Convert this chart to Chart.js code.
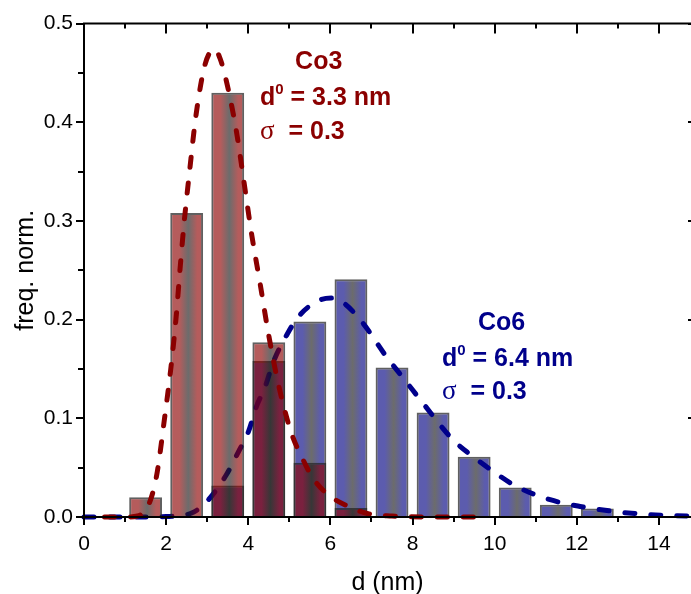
<!DOCTYPE html>
<html><head><meta charset="utf-8">
<script src="https://cdn.jsdelivr.net/npm/chart.js@4/dist/chart.umd.min.js"></script>
<style>html,body{margin:0;padding:0;background:#fff;}canvas{display:block;}</style>
</head><body>
<canvas id="c" width="691" height="594" style="width:691px;height:594px"></canvas>
<script>
// ---- data ----
const co3BarCenters = [1.5, 2.5, 3.5, 4.5, 5.5, 6.5];
const co3BarFreq    = [0.020, 0.308, 0.430, 0.177, 0.055, 0.009];
const co6BarCenters = [3.5, 4.5, 5.5, 6.5, 7.5, 8.5, 9.5, 10.5, 11.5, 12.5];
const co6BarFreq    = [0.032, 0.158, 0.198, 0.241, 0.1515, 0.106, 0.061, 0.030, 0.0124, 0.0087];

const co3FitD    = [0.5, 1.0, 1.3, 1.5, 1.66, 1.785, 1.955, 2.11, 2.24, 2.34, 2.435, 2.58, 2.73, 2.95, 3.19, 3.31, 3.46, 3.71, 3.89, 4.08, 4.29, 4.49, 4.73, 5.05, 5.30, 5.58, 5.95, 6.44, 6.92, 7.5, 8.5, 9.5];
const co3FitFreq = [0, 0, 0.001, 0.007, 0.0225, 0.046, 0.098, 0.149, 0.201, 0.252, 0.297, 0.354, 0.408, 0.459, 0.474, 0.465, 0.443, 0.391, 0.341, 0.287, 0.236, 0.186, 0.135, 0.085, 0.061, 0.039, 0.0225, 0.0107, 0.0033, 0.001, 0, 0];

const co6FitD    = [0, 1, 2, 2.62, 3.03, 3.47, 3.76, 4.0, 4.2, 4.41, 4.61, 4.93, 5.24, 5.75, 6.05, 6.35, 6.8, 7.37, 7.81, 8.26, 8.99, 9.48, 9.97, 10.53, 11.35, 12.08, 12.89, 13.78, 14.78];
const co6FitFreq = [0, 0, 0.0005, 0.004, 0.0175, 0.043, 0.066, 0.086, 0.112, 0.132, 0.157, 0.184, 0.204, 0.220, 0.222, 0.216, 0.196, 0.162, 0.139, 0.115, 0.078, 0.061, 0.046, 0.031, 0.0175, 0.0107, 0.0057, 0.0023, 0.001];

const xTickValues  = [0, 2, 4, 6, 8, 10, 12, 14];
const xMinorValues = [1, 3, 5, 7, 9, 11, 13];
const yTickValues  = [0, 0.1, 0.2, 0.3, 0.4, 0.5];
const yMinorValues = [0.05, 0.15, 0.25, 0.35, 0.45];

const co3Label = ['Co3', '3.3', '0.3'];
const co6Label = ['Co6', '6.4', '0.3'];

// ---- styling ----
const FONT = '"Liberation Sans", Arial, sans-serif';
Chart.defaults.font.family = FONT;
Chart.defaults.color = '#000';
const RED = '#8b0000', BLUE = '#00008b';
const BAR_ALPHA = 0.64;
const BAR_FRAC = 0.8;

const zip = (a, b) => a.map((v, i) => ({x: v, y: b[i]}));

function barGradient(rgb) {
  return (c) => {
    const chart = c.chart, xs = chart.scales && chart.scales.x;
    const flat = `rgba(${rgb},${BAR_ALPHA})`;
    if (c.type !== 'data' || !xs || !chart.chartArea || !c.raw) return flat;
    const x0 = xs.getPixelForValue(c.raw.x - BAR_FRAC / 2);
    const x1 = xs.getPixelForValue(c.raw.x + BAR_FRAC / 2);
    if (!isFinite(x0) || !isFinite(x1) || x1 <= x0) return flat;
    const g = chart.ctx.createLinearGradient(x0, 0, x1, 0);
    g.addColorStop(0, flat);
    g.addColorStop(0.28, flat);
    g.addColorStop(0.55, `rgba(25,25,25,${BAR_ALPHA})`);
    g.addColorStop(0.82, flat);
    g.addColorStop(1, flat);
    return g;
  };
}

const frame = {
  id: 'frame',
  afterDatasetsDraw(chart) {
    const {ctx, chartArea: a, scales: {x, y}} = chart;
    ctx.save();
    ctx.strokeStyle = '#000';
    ctx.lineWidth = 2;
    ctx.beginPath();
    ctx.moveTo(a.left, a.top - 1); ctx.lineTo(a.left, a.bottom + 1);
    ctx.moveTo(a.left - 1, a.bottom); ctx.lineTo(a.right, a.bottom);
    ctx.moveTo(a.left - 1, a.top); ctx.lineTo(a.right, a.top);
    ctx.stroke();
    ctx.beginPath();
    xTickValues.forEach(v => { const p = Math.round(x.getPixelForValue(v));
      ctx.moveTo(p, a.bottom); ctx.lineTo(p, a.bottom + 8);
      ctx.moveTo(p, a.top); ctx.lineTo(p, a.top + 10); });
    xMinorValues.forEach(v => { const p = Math.round(x.getPixelForValue(v));
      ctx.moveTo(p, a.bottom); ctx.lineTo(p, a.bottom + 5);
      ctx.moveTo(p, a.top); ctx.lineTo(p, a.top + 5); });
    yTickValues.forEach(v => { const p = Math.round(y.getPixelForValue(v));
      ctx.moveTo(a.left, p); ctx.lineTo(a.left - 8, p);
      ctx.moveTo(a.right, p); ctx.lineTo(a.right - 3, p); });
    yMinorValues.forEach(v => { const p = Math.round(y.getPixelForValue(v));
      ctx.moveTo(a.left, p); ctx.lineTo(a.left - 6, p); });
    ctx.stroke();
    ctx.restore();
  },
  afterDraw(chart) {
    const {ctx, scales: {x, y}} = chart;
    const bold = 'bold 25px ' + FONT, sup = 'bold 15px ' + FONT, sig = '27px "Liberation Serif", serif';
    function line(px, py, parts, color) {
      let cx = x.getPixelForValue(px); const by = y.getPixelForValue(py);
      ctx.fillStyle = color; ctx.textBaseline = 'alphabetic'; ctx.textAlign = 'left';
      parts.forEach(([t, f, dy]) => { ctx.font = f; ctx.fillText(t, cx, by + (dy || 0)); cx += ctx.measureText(t).width; });
    }
    ctx.save();
    line(5.14, 0.4535, [[co3Label[0], bold]], RED);
    line(4.285, 0.418, [['d', bold], ['0', sup, -11], [' = ' + co3Label[1] + ' nm', bold]], RED);
    line(4.285, 0.383, [['\u03C3', sig], ['  = ' + co3Label[2], bold]], RED);
    line(9.593, 0.189, [[co6Label[0], bold]], BLUE);
    line(8.717, 0.1535, [['d', bold], ['0', sup, -11], [' = ' + co6Label[1] + ' nm', bold]], BLUE);
    line(8.717, 0.120, [['\u03C3', sig], ['  = ' + co6Label[2], bold]], BLUE);
    ctx.restore();
  }
};

new Chart(document.getElementById('c'), {
  type: 'bar',
  data: {
    datasets: [
      {type: 'line', label: 'Co3 fit', data: zip(co3FitD, co3FitFreq), borderColor: RED, borderWidth: 5,
       borderDash: [10, 16], borderCapStyle: 'round', pointRadius: 0, cubicInterpolationMode: 'monotone',
       fill: false, clip: false, order: 0},
      {type: 'bar', label: 'Co3', data: zip(co3BarCenters, co3BarFreq), backgroundColor: barGradient('139,0,0'),
       borderColor: 'rgba(35,35,35,0.72)', borderWidth: 2, grouped: false, barPercentage: BAR_FRAC,
       categoryPercentage: 1, order: 1},
      {type: 'line', label: 'Co6 fit', data: zip(co6FitD, co6FitFreq), borderColor: BLUE, borderWidth: 5,
       borderDash: [10, 16], borderCapStyle: 'round', pointRadius: 0, cubicInterpolationMode: 'monotone',
       fill: false, clip: false, order: 2},
      {type: 'bar', label: 'Co6', data: zip(co6BarCenters, co6BarFreq), backgroundColor: barGradient('0,0,128'),
       borderColor: 'rgba(35,35,35,0.72)', borderWidth: 2, grouped: false, barPercentage: BAR_FRAC,
       categoryPercentage: 1, order: 3}
    ]
  },
  options: {
    responsive: false, animation: false, devicePixelRatio: 1,
    layout: {padding: {top: 22, right: 0, left: 0, bottom: 0}},
    plugins: {legend: {display: false}, tooltip: {enabled: false}},
    scales: {
      x: {
        type: 'linear', min: 0, max: 14.78, offset: false,
        grid: {display: false, drawTicks: false, offset: false}, border: {display: false},
        ticks: {includeBounds: false, autoSkip: false, maxRotation: 0, padding: 15, font: {size: 21}, color: '#000'},
        afterBuildTicks: s => { s.ticks = xTickValues.map(v => ({value: v})); },
        afterFit: s => { s.height = 77; },
        title: {display: true, text: 'd (nm)', font: {size: 25, lineHeight: 1}, color: '#000', padding: {top: 0, bottom: -2}}
      },
      y: {
        min: 0, max: 0.5,
        grid: {display: false, drawTicks: false}, border: {display: false},
        ticks: {padding: 11, font: {size: 21}, color: '#000', callback: v => Number(v).toFixed(1)},
        afterBuildTicks: s => { s.ticks = yTickValues.map(v => ({value: v})); },
        afterFit: s => { s.width = 84; },
        title: {display: true, text: 'freq. norm.', font: {size: 25, lineHeight: 1}, color: '#000', padding: {top: 14, bottom: 0}}
      }
    }
  },
  plugins: [frame]
});
</script>
</body></html>
